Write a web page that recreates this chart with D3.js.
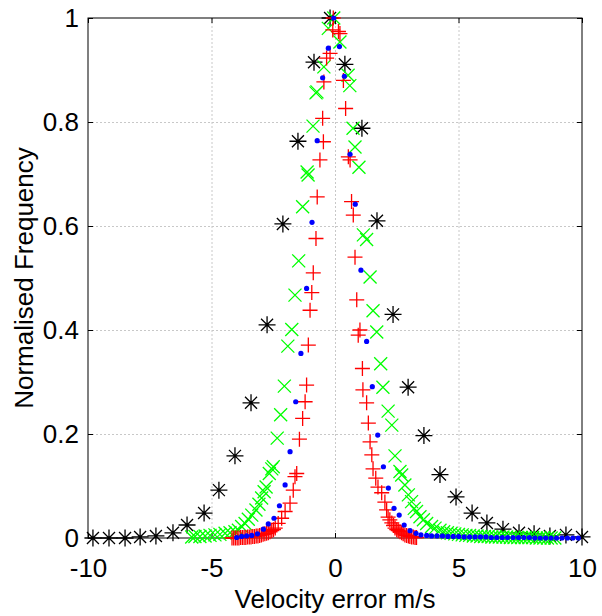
<!DOCTYPE html>
<html>
<head>
<meta charset="utf-8">
<script src="https://cdn.jsdelivr.net/npm/d3@7"></script>
<style>
  html, body { margin: 0; padding: 0; background: #fff; overflow: hidden; }
  svg { display: block; }
  text { font-family: "Liberation Sans", Arial, sans-serif; }
</style>
</head>
<body>
<div id="chart-area"></div>
<script>
// data
var xTicks = [-10, -5, 0, 5, 10];
var yTicks = [0, 0.2, 0.4, 0.6, 0.8, 1];
var yTickLabels = ['0', '0.2', '0.4', '0.6', '0.8', '1'];

var blackX = [-9.80, -9.15, -8.50, -7.89, -7.25, -6.56, -5.99, -5.30, -4.70, -4.05, -3.40, -2.75, -2.11, -1.50, -0.85, -0.20,
              0.40, 1.09, 1.70, 2.35, 2.96, 3.60, 4.25, 4.90, 5.55, 6.15, 6.80, 7.45, 8.06, 8.70, 9.35, 10.00];
var blackY = [0, 0, 0, 0.002, 0.004, 0.010, 0.025, 0.048, 0.092, 0.158, 0.260, 0.410, 0.604, 0.763, 0.915, 1.0,
              0.911, 0.788, 0.610, 0.430, 0.290, 0.197, 0.122, 0.079, 0.048, 0.029, 0.017, 0.010, 0.008, 0.004, 0.006, 0.002];

var greenX = [-5.80, -5.67, -5.47, -5.26, -5.06, -4.86, -4.66, -4.45, -4.25, -4.05, -3.91, -3.78, -3.64, -3.51, -3.37, -3.20,
              -3.08, -2.97, -2.87, -2.79, -2.66, -2.56, -2.50, -2.34, -2.20, -2.05, -1.91, -1.75, -1.62, -1.47, -1.31, -1.13,
              -1.09, -0.89, -0.77, -0.73, -0.45, -0.27, -0.05, 0.20, 0.53, 0.60, 0.73, 0.81, 0.97, 1.15, 1.28, 1.42,
              1.54, 1.69, 1.85, 1.94, 2.15, 2.30, 2.43, 2.63, 2.70, 2.83, 2.97, 3.10, 3.21, 3.30, 3.44, 3.58, 3.71, 3.91,
              4.05, 4.25, 4.40, 4.55, 4.70, 4.85, 5.00, 5.15, 5.30, 5.45, 5.60, 5.75, 5.90, 6.05, 6.20, 6.35, 6.50, 6.65,
              6.80, 6.95, 7.10, 7.25, 7.40, 7.55, 7.70, 7.85, 8.00, 8.15, 8.30, 8.45, 8.60, 8.75, 8.90];
var greenY = [0.002, 0.003, 0.003, 0.004, 0.005, 0.006, 0.007, 0.009, 0.010, 0.012, 0.015, 0.022, 0.028, 0.036, 0.044, 0.054,
              0.065, 0.077, 0.089, 0.098, 0.124, 0.133, 0.137, 0.192, 0.237, 0.292, 0.369, 0.401, 0.467, 0.533, 0.637, 0.704,
              0.698, 0.792, 0.856, 0.858, 0.906, 0.980, 1.0, 0.954, 0.890, 0.870, 0.788, 0.752, 0.713, 0.583, 0.574, 0.502,
              0.437, 0.396, 0.335, 0.290, 0.244, 0.217, 0.158, 0.128, 0.121, 0.102, 0.083, 0.070, 0.057, 0.051, 0.041, 0.035, 0.028, 0.022,
              0.019, 0.015, 0.012, 0.010, 0.009, 0.008, 0.007, 0.006, 0.005, 0.005, 0.004, 0.004, 0.003, 0.003, 0.003, 0.002, 0.002, 0.002,
              0.002, 0.002, 0.001, 0.001, 0.001, 0.001, 0.001, 0.001, 0.001, 0, 0, 0, 0, 0, 0];

var redX = [-4.17, -4.10, -4.03, -3.96, -3.89, -3.82, -3.75, -3.68, -3.61, -3.54, -3.47, -3.40, -3.33, -3.26, -3.19, -3.12,
            -3.05, -2.98, -2.91, -2.84, -2.77, -2.70, -2.63, -2.56, -2.49, -2.42, -2.30, -2.16, -2.02, -1.82, -1.69, -1.62,
            -1.55, -1.44, -1.31, -1.21, -1.15, -1.08, -1.01, -0.94, -0.88, -0.77, -0.72, -0.61, -0.47, -0.50, -0.45, -0.34,
            -0.20, -0.09, -0.07, 0.14, 0.20, 0.34, 0.43, 0.54, 0.61, 0.67, 0.74, 0.81, 0.88, 0.94, 1.01, 1.11,
            1.13, 1.28, 1.35, 1.42, 1.49, 1.54, 1.65, 1.74, 1.89, 2.02, 2.09, 2.15, 2.22, 2.30, 2.37, 2.43,
            2.50, 2.56, 2.63, 2.70, 2.76, 2.83, 2.90, 2.97, 3.03, 3.10, 3.17, 3.24, 3.30];
var redY = [0, 0, 0, 0, 0, 0.001, 0.001, 0.001, 0.001, 0.002, 0.002, 0.002, 0.003, 0.003, 0.004, 0.004,
            0.005, 0.006, 0.007, 0.008, 0.009, 0.010, 0.012, 0.014, 0.016, 0.019, 0.028, 0.038, 0.051, 0.067, 0.092, 0.118,
            0.124, 0.190, 0.230, 0.262, 0.294, 0.371, 0.438, 0.472, 0.510, 0.576, 0.656, 0.727, 0.762, 0.807, 0.877, 0.923,
            0.932, 0.977, 1.0, 0.974, 0.970, 0.880, 0.826, 0.733, 0.727, 0.647, 0.621, 0.540, 0.458, 0.390, 0.400, 0.326,
            0.285, 0.260, 0.221, 0.185, 0.160, 0.133, 0.115, 0.098, 0.087, 0.069, 0.054, 0.040, 0.035, 0.029, 0.024, 0.019,
            0.016, 0.014, 0.012, 0.010, 0.008, 0.006, 0.005, 0.004, 0.003, 0.002, 0.002, 0.001, 0.001];

var blueX = [-3.98, -3.78, -3.58, -3.37, -3.14, -2.90, -2.70, -2.47, -2.25, -2.02, -1.82, -1.59, -1.38, -1.15, -0.93, -0.72,
             -0.50, -0.27, -0.05, 0.18, 0.38, 0.61, 0.82, 1.05, 1.28, 1.51, 1.73, 1.96, 2.16, 2.39, 2.60, 2.80,
             3.04, 3.28, 3.48, 3.71, 3.91, 4.13, 4.35, 4.57, 4.79, 5.01, 5.23, 5.45, 5.67, 5.89, 6.11, 6.33,
             6.55, 6.77, 6.99, 7.21, 7.43, 7.65, 7.87, 8.09, 8.31, 8.53, 8.75, 8.97, 9.19, 9.41, 9.63, 9.85];
var blueY = [0.001, 0.003, 0.004, 0.005, 0.008, 0.017, 0.027, 0.038, 0.062, 0.102, 0.166, 0.262, 0.355, 0.480, 0.607, 0.764,
             0.885, 0.942, 1.0, 0.945, 0.888, 0.738, 0.642, 0.515, 0.378, 0.291, 0.198, 0.137, 0.096, 0.057, 0.044, 0.025,
             0.014, 0.009, 0.006, 0.005, 0.004, 0.004, 0.004, 0.003, 0.003, 0.003, 0.002, 0.002, 0.002, 0.002, 0.002, 0.001,
             0.001, 0.001, 0.001, 0.001, 0.001, 0.001, 0.001, 0, 0, 0, 0, 0, 0, 0, 0, 0];

var svgWidth = 602, svgHeight = 616;
var margin = {left: 88, right: 20, top: 18, bottom: 78};
var plotWidth = svgWidth - margin.left - margin.right;
var plotHeight = svgHeight - margin.top - margin.bottom;
var fontSize = '26px';

var svg = d3.select('#chart-area').append('svg')
            .attr('width', svgWidth)
            .attr('height', svgHeight);

var g = svg.append('g')
           .attr('transform', 'translate(' + margin.left + ',' + margin.top + ')');

var xScale = d3.scaleLinear().domain([-10, 10]).range([0, plotWidth]);
var yScale = d3.scaleLinear().domain([0, 1]).range([plotHeight, 0]);

// dotted grid
var grid = g.append('g').attr('class', 'grid');
grid.selectAll('line.vx')
 .data(xTicks.slice(1, -1))
 .enter().append('line')
 .attr('x1', function(d){ return xScale(d) + 0.5; })
 .attr('x2', function(d){ return xScale(d) + 0.5; })
 .attr('y1', 0).attr('y2', plotHeight);
grid.selectAll('line.hy')
 .data(yTicks.slice(1, -1))
 .enter().append('line')
 .attr('y1', function(d){ return Math.round(yScale(d)) + 0.5; })
 .attr('y2', function(d){ return Math.round(yScale(d)) + 0.5; })
 .attr('x1', 0).attr('x2', plotWidth);
grid.selectAll('line')
 .attr('stroke', '#c8c8c8')
 .attr('stroke-width', 1)
 .attr('stroke-dasharray', '2,2');

// axes with inward ticks, MATLAB box style
var xAxis = d3.axisBottom(xScale).tickValues(xTicks).tickSize(-5).tickPadding(21)
              .tickFormat(function(d){ return d < 0 ? '-' + Math.abs(d) : String(d); });
var yAxis = d3.axisLeft(yScale).tickValues(yTicks).tickSize(-5).tickPadding(9)
              .tickFormat(function(d, i){ return yTickLabels[i]; });

var xAxisG = g.append('g').attr('transform', 'translate(0,' + plotHeight + ')').call(xAxis);
var yAxisG = g.append('g').call(yAxis);
var xTopG = g.append('g').call(d3.axisTop(xScale).tickValues(xTicks).tickSize(-5));
var yRightG = g.append('g').attr('transform', 'translate(' + plotWidth + ',0)')
               .call(d3.axisRight(yScale).tickValues(yTicks).tickSize(-5));
xTopG.selectAll('text').remove();
yRightG.selectAll('text').remove();

[xAxisG, yAxisG, xTopG, yRightG].forEach(function(a){
  a.select('.domain').remove();
  a.selectAll('line').attr('stroke', '#000');
  a.selectAll('text').attr('font-size', fontSize).attr('fill', '#000')
   .style('font-family', '"Liberation Sans", Arial, sans-serif');
});

g.append('rect')
 .attr('x', 0).attr('y', 0)
 .attr('width', plotWidth).attr('height', plotHeight)
 .attr('fill', 'none').attr('stroke', '#000').attr('stroke-width', 1);

// markers
function pts(xs, ys){ return xs.map(function(x, i){ return {x: x, y: ys[i]}; }); }
function pos(d){ return 'translate(' + xScale(d.x) + ',' + yScale(d.y) + ')'; }

var starPath = 'M-8.5,0H8.5M0,-8.5V8.5M-6,-6L6,6M-6,6L6,-6';
var crossPath = 'M-6.5,-6.5L6.5,6.5M-6.5,6.5L6.5,-6.5';
var plusPath = 'M-7.5,0H7.5M0,-7.5V7.5';

g.append('g').selectAll('path')
 .data(pts(blackX, blackY)).enter().append('path')
 .attr('transform', pos).attr('d', starPath)
 .attr('stroke', '#000').attr('stroke-width', 1.3).attr('fill', 'none');

g.append('g').selectAll('path')
 .data(pts(greenX, greenY)).enter().append('path')
 .attr('transform', pos).attr('d', crossPath)
 .attr('stroke', '#00ff00').attr('stroke-width', 1.3).attr('fill', 'none');

g.append('g').selectAll('path')
 .data(pts(redX, redY)).enter().append('path')
 .attr('transform', pos).attr('d', plusPath)
 .attr('stroke', '#ff0000').attr('stroke-width', 1.3).attr('fill', 'none');

g.append('g').selectAll('circle')
 .data(pts(blueX, blueY)).enter().append('circle')
 .attr('cx', function(d){ return xScale(d.x); })
 .attr('cy', function(d){ return yScale(d.y); })
 .attr('r', 2.6).attr('fill', '#0000ff');

// axis titles
svg.append('text')
   .attr('x', margin.left + plotWidth / 2)
   .attr('y', 608)
   .attr('text-anchor', 'middle')
   .attr('font-size', fontSize)
   .attr('fill', '#000')
   .text('Velocity error m/s');

svg.append('text')
   .attr('transform', 'translate(33,' + (margin.top + plotHeight / 2) + ') rotate(-90)')
   .attr('text-anchor', 'middle')
   .attr('font-size', fontSize)
   .attr('fill', '#000')
   .text('Normalised Frequency');
</script>
</body>
</html>
